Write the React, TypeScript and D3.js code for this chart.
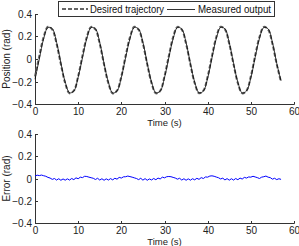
import React, { useEffect, useRef } from 'react';
import * as d3 from 'd3';

// time stamps (s) for the position traces, one per second
const posTime = d3.range(0, 58, 1);

// desired trajectory (rad)
const desired = [
  -0.155, 0.028, 0.195, 0.286, 0.262, 0.135, -0.048, -0.215, -0.305, -0.282,
  -0.152, 0.03, 0.196, 0.285, 0.263, 0.134, -0.05, -0.216, -0.306, -0.281,
  -0.154, 0.029, 0.194, 0.286, 0.261, 0.136, -0.047, -0.214, -0.305, -0.283,
  -0.153, 0.027, 0.195, 0.285, 0.262, 0.135, -0.049, -0.215, -0.304, -0.282,
  -0.155, 0.028, 0.196, 0.286, 0.263, 0.134, -0.048, -0.216, -0.305, -0.281,
  -0.154, 0.029, 0.195, 0.285, 0.262, 0.135, -0.047, -0.205,
];

// measured output (rad)
const measured = [
  -0.18, 0.0, 0.18, 0.28, 0.27, 0.148, -0.036, -0.205, -0.3, -0.285,
  -0.162, 0.012, 0.182, 0.28, 0.268, 0.146, -0.04, -0.206, -0.302, -0.284,
  -0.165, 0.014, 0.18, 0.281, 0.266, 0.148, -0.038, -0.205, -0.3, -0.286,
  -0.165, 0.012, 0.18, 0.28, 0.266, 0.146, -0.04, -0.206, -0.3, -0.285,
  -0.17, 0.01, 0.182, 0.281, 0.268, 0.146, -0.04, -0.207, -0.302, -0.284,
  -0.168, 0.014, 0.182, 0.28, 0.268, 0.148, -0.038, -0.195,
];

// tracking error (rad), every 0.5 s
const errTime = d3.range(0, 57.25, 0.5);
const error = [
  0.022, 0.03, 0.026, 0.031, 0.025, 0.02, 0.01, 0.004, -0.008, 0.0,
  -0.014, -0.002, -0.016, -0.004, -0.015, -0.003, -0.014, 0.0, -0.01, 0.006,
  -0.002, 0.012, 0.008, 0.02, 0.018, 0.012, 0.007, 0.002, -0.009, 0.002,
  -0.014, -0.002, -0.016, -0.003, -0.014, -0.001, -0.012, 0.002, -0.006, 0.01,
  0.004, 0.015, 0.016, 0.022, 0.017, 0.012, 0.006, 0.0, -0.01, 0.002,
  -0.015, -0.001, -0.016, -0.004, -0.013, 0.0, -0.011, 0.004, -0.004, 0.012,
  0.006, 0.016, 0.018, 0.016, 0.01, 0.004, -0.006, 0.002, -0.014, -0.002,
  -0.016, -0.003, -0.015, -0.002, -0.012, 0.002, -0.008, 0.008, 0.0, 0.014,
  0.012, 0.022, 0.024, 0.02, 0.013, 0.007, -0.004, 0.003, -0.013, -0.001,
  -0.015, -0.002, -0.014, 0.0, -0.011, 0.004, -0.005, 0.01, 0.004, 0.014,
  0.012, 0.02, 0.014, 0.008, 0.0, 0.012, 0.016, 0.022, 0.012, 0.008,
  -0.006, 0.002, -0.01, -0.002, -0.008,
];

const xTicks = [0, 10, 20, 30, 40, 50, 60];
const yTicks = [-0.4, -0.2, 0, 0.2, 0.4];
const legendLabels = ['Desired trajectory', 'Measured output'];

const Chart: React.FC = () => {
  const svgRef = useRef<SVGSVGElement>(null);

  useEffect(() => {
    const width = 299;
    const height = 246;
    const svg = d3.select(svgRef.current).attr('width', width).attr('height', height);
    svg.selectAll('*').remove();

    const font = 'Liberation Sans, Arial, sans-serif';
    const axisColor = '#333';

    const x = d3.scaleLinear().domain([0, 60]).range([35, 294]);

    const drawAxes = (y: d3.ScaleLinear<number, number>, ylabel: string) => {
      const [y0, y1] = y.range();
      const g = svg.append('g');
      g.append('line')
        .attr('x1', 35.5).attr('x2', 35.5).attr('y1', y1).attr('y2', y0 + 0.5)
        .attr('stroke', axisColor);
      g.append('line')
        .attr('x1', 35).attr('x2', 294.5).attr('y1', y0 + 0.5).attr('y2', y0 + 0.5)
        .attr('stroke', axisColor);

      // y ticks (pointing inward)
      yTicks.forEach(t => {
        const py = Math.round(y(t)) + 0.5;
        g.append('line').attr('x1', 35.5).attr('x2', 38).attr('y1', py).attr('y2', py).attr('stroke', axisColor);
        g.append('text')
          .attr('x', 32).attr('y', py + 3.5)
          .attr('text-anchor', 'end')
          .attr('font-family', font).attr('font-size', 10).attr('fill', '#222')
          .text(d3.format('')(t).replace('-', '\u2212'));
      });

      xTicks.forEach(t => {
        const px = Math.round(x(t)) + 0.5;
        g.append('line').attr('x1', px).attr('x2', px).attr('y1', y0 + 0.5).attr('y2', y0 - 2).attr('stroke', axisColor);
        g.append('text')
          .attr('x', px).attr('y', y0 + 11)
          .attr('text-anchor', 'middle')
          .attr('font-family', font).attr('font-size', 10).attr('fill', '#222')
          .text(t);
      });

      g.append('text')
        .attr('x', (35 + 294) / 2).attr('y', y0 + 21.5)
        .attr('text-anchor', 'middle')
        .attr('font-family', font).attr('font-size', 9.5).attr('fill', '#222')
        .text('Time (s)');

      g.append('text')
        .attr('transform', `translate(10,${(y0 + y1) / 2}) rotate(-90)`)
        .attr('text-anchor', 'middle')
        .attr('font-family', font).attr('font-size', 10).attr('fill', '#222')
        .text(ylabel);
    };

    // top panel: position
    const yTop = d3.scaleLinear().domain([-0.4, 0.4]).range([104, 14]);
    drawAxes(yTop, 'Position (rad)');

    const lineTop = d3.line<number>()
      .x((_, i) => x(posTime[i]))
      .y(d => yTop(d))
      .curve(d3.curveCatmullRom);

    svg.append('path')
      .attr('d', lineTop(desired))
      .attr('fill', 'none')
      .attr('stroke', '#666')
      .attr('stroke-width', 2)
      .attr('stroke-dasharray', '4,2');

    svg.append('path')
      .attr('d', lineTop(measured))
      .attr('fill', 'none')
      .attr('stroke', '#000')
      .attr('stroke-width', 0.8);

    // legend
    const leg = svg.append('g');
    leg.append('rect')
      .attr('x', 58.5).attr('y', 1.5).attr('width', 216).attr('height', 15)
      .attr('fill', '#fff').attr('stroke', '#333');
    leg.append('line')
      .attr('x1', 62).attr('x2', 88).attr('y1', 9).attr('y2', 9)
      .attr('stroke', '#666').attr('stroke-width', 2).attr('stroke-dasharray', '4,2');
    leg.append('text')
      .attr('x', 90).attr('y', 13)
      .attr('font-family', font).attr('font-size', 10).attr('fill', '#111')
      .attr('textLength', 74).attr('lengthAdjust', 'spacingAndGlyphs')
      .text(legendLabels[0]);
    leg.append('line')
      .attr('x1', 167).attr('x2', 195).attr('y1', 9.5).attr('y2', 9.5)
      .attr('stroke', '#000').attr('stroke-width', 0.8);
    leg.append('text')
      .attr('x', 198).attr('y', 13)
      .attr('font-family', font).attr('font-size', 10).attr('fill', '#111')
      .attr('textLength', 73).attr('lengthAdjust', 'spacingAndGlyphs')
      .text(legendLabels[1]);

    // bottom panel: error
    const yBot = d3.scaleLinear().domain([-0.4, 0.4]).range([223, 134]);
    drawAxes(yBot, 'Error (rad)');

    const lineBot = d3.line<number>()
      .x((_, i) => x(errTime[i]))
      .y(d => yBot(d));

    svg.append('path')
      .attr('d', lineBot(error))
      .attr('fill', 'none')
      .attr('stroke', '#0000ff')
      .attr('stroke-width', 1);
  }, []);

  return <svg ref={svgRef} style={{ position: 'absolute', left: 0, top: 0 }}></svg>;
};

const App: React.FC = () => {
  return (
    <div>
      <Chart />
    </div>
  );
};

export default App;
